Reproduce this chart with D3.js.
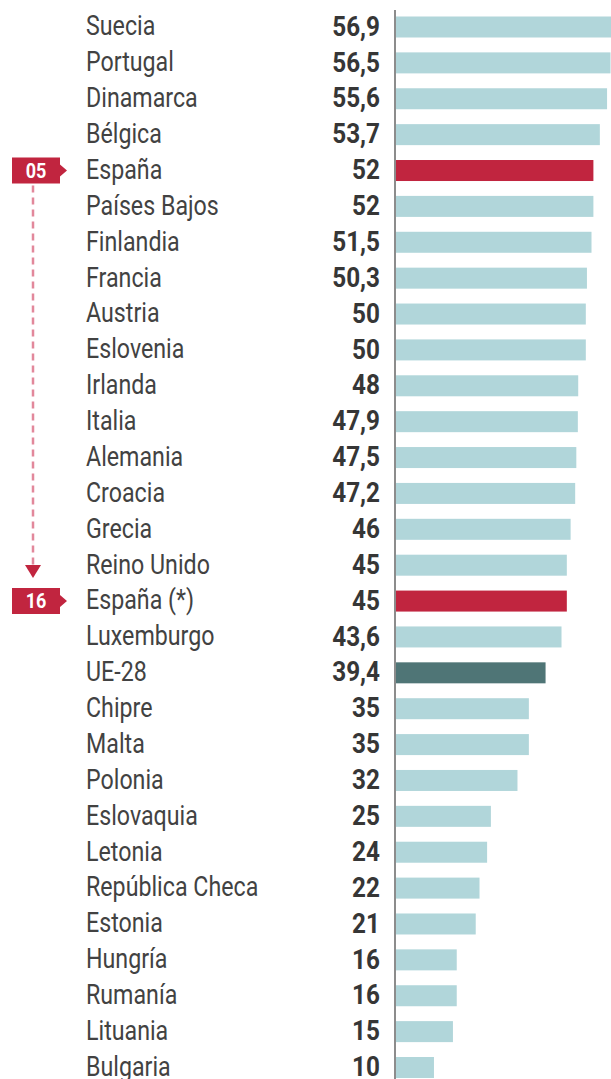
<!DOCTYPE html>
<html>
<head>
<meta charset="utf-8">
<script src="https://cdn.jsdelivr.net/npm/d3@7"></script>
<style>
  html, body { margin: 0; padding: 0; background: #fff; }
  svg { display: block; }
  .name { font-family: Roboto, sans-serif; font-size: 27px; fill: #424242; }
  .value { font-family: Roboto, sans-serif; font-size: 27px; font-weight: bold; fill: #363636; }
  .badge text { font-family: Roboto, sans-serif; font-size: 20px; font-weight: bold; fill: #fff; }
</style>
</head>
<body>
<svg id="vis"></svg>
<script>
  var countries = ['Suecia', 'Portugal', 'Dinamarca', 'Bélgica', 'España', 'Países Bajos',
    'Finlandia', 'Francia', 'Austria', 'Eslovenia', 'Irlanda', 'Italia', 'Alemania',
    'Croacia', 'Grecia', 'Reino Unido', 'España (*)', 'Luxemburgo', 'UE-28', 'Chipre',
    'Malta', 'Polonia', 'Eslovaquia', 'Letonia', 'República Checa', 'Estonia', 'Hungría',
    'Rumanía', 'Lituania', 'Bulgaria'];

  var values = [56.9, 56.5, 55.6, 53.7, 52, 52, 51.5, 50.3, 50, 50, 48, 47.9, 47.5,
    47.2, 46, 45, 45, 43.6, 39.4, 35, 35, 32, 25, 24, 22, 21, 16, 16, 15, 10];

  // which rows get a highlight colour
  var highlightSpain = ['España', 'España (*)'];
  var highlightEU = ['UE-28'];

  // ranking badges next to the two Spain rows
  var badgeRows = ['España', 'España (*)'];
  var badgeLabels = ['05', '16'];

  var prefs = {
    width: 611,
    height: 1079,
    barColor: '#b1d6da',
    spainColor: '#c1253f',
    euColor: '#4f7576',
    axisColor: '#8c8c8c',
    barHeight: 21,
    nameX: 86,
    valueX: 380,
    nameSqueeze: 0.86,
    valueSqueeze: 0.9,
    badgeSqueeze: 0.9
  };

  var data = countries.map(function(c, i) {
    return { name: c, value: values[i] };
  });

  var svg = d3.select('#vis')
    .attr('width', prefs.width)
    .attr('height', prefs.height);

  var x = d3.scaleLinear()
    .domain([0, 56.9])
    .range([396, 612]);

  var y = d3.scalePoint()
    .domain(countries)
    .range([27, 1067.5]);

  var fmt = function(v) {
    return String(v).replace('.', ',');
  };

  function barColor(d) {
    if (highlightSpain.indexOf(d.name) >= 0) return prefs.spainColor;
    if (highlightEU.indexOf(d.name) >= 0) return prefs.euColor;
    return prefs.barColor;
  }

  /* Bars */
  svg.append('g').selectAll('rect')
    .data(data)
    .enter().append('rect')
      .attr('x', x(0))
      .attr('y', function(d) { return y(d.name) - prefs.barHeight / 2; })
      .attr('width', function(d) { return x(d.value) - x(0); })
      .attr('height', prefs.barHeight)
      .attr('fill', barColor);

  /* Vertical axis line */
  svg.append('line')
    .attr('x1', x(0) - 1).attr('x2', x(0) - 1)
    .attr('y1', 10).attr('y2', prefs.height)
    .attr('stroke', prefs.axisColor)
    .attr('stroke-width', 2);

  /* Country names (font squeezed sideways to mimic the condensed face) */
  svg.append('g').selectAll('text')
    .data(data)
    .enter().append('text')
      .classed('name', true)
      .attr('transform', function(d) {
        return 'translate(' + prefs.nameX + ',' + y(d.name) + ') scale(' + prefs.nameSqueeze + ',1)';
      })
      .attr('dy', '0.31em')
      .text(function(d) { return d.name; });

  /* Values */
  svg.append('g').selectAll('text')
    .data(data)
    .enter().append('text')
      .classed('value', true)
      .attr('transform', function(d) {
        return 'translate(' + prefs.valueX + ',' + y(d.name) + ') scale(' + prefs.valueSqueeze + ',1)';
      })
      .attr('dy', '0.32em')
      .attr('text-anchor', 'end')
      .text(function(d) { return fmt(d.value); });

  /* Dashed arrow linking the two rankings */
  var arrowX = 33,
      yTop = y(badgeRows[0]) + 15,
      yBottom = y(badgeRows[1]) - 24;

  svg.append('line')
    .attr('x1', arrowX).attr('x2', arrowX)
    .attr('y1', yTop).attr('y2', yBottom - 10)
    .attr('stroke', '#e2889b')
    .attr('stroke-width', 2.5)
    .attr('stroke-dasharray', '7,5');

  svg.append('path')
    .attr('d', 'M' + (arrowX - 8) + ',' + (yBottom - 12) +
               'L' + (arrowX + 8) + ',' + (yBottom - 12) +
               'L' + arrowX + ',' + (yBottom + 1) + 'Z')
    .attr('fill', prefs.spainColor);

  /* Badges */
  var badges = svg.append('g').selectAll('g')
    .data(badgeRows)
    .enter().append('g')
      .classed('badge', true)
      .attr('transform', function(d) { return 'translate(0,' + y(d) + ')'; });

  badges.append('path')
    .attr('d', 'M12,-13 L60,-13 L60,-6 L67,0 L60,6 L60,13 L12,13 Z')
    .attr('fill', prefs.spainColor);

  badges.append('text')
    .attr('transform', 'translate(36,0) scale(' + prefs.badgeSqueeze + ',1)')
    .attr('dy', '0.36em')
    .attr('text-anchor', 'middle')
    .text(function(d, i) { return badgeLabels[i]; });
</script>
</body>
</html>
